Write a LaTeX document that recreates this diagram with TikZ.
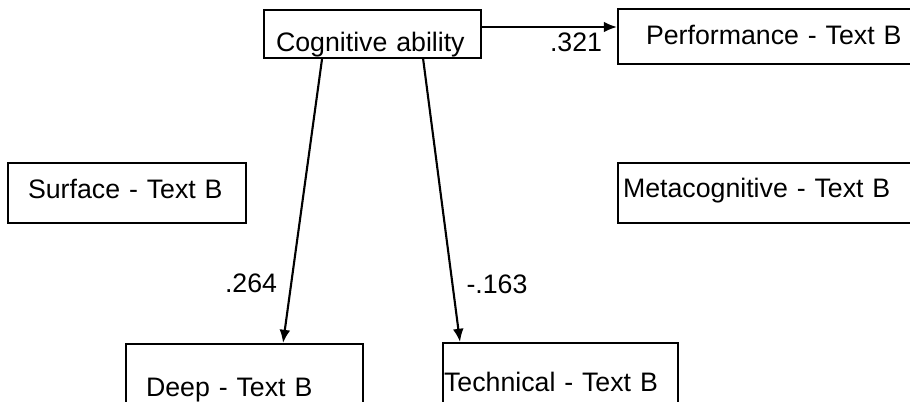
\documentclass[tikz,border=0pt]{standalone}
\usepackage{fontspec}
\setmainfont{Liberation Sans}
\usetikzlibrary{arrows.meta}
\tikzset{
  var/.style={draw, line width=1.5pt, anchor=north west, inner ysep=0pt,
    align=left, font=\fontsize{19}{22}\selectfont},
  coef/.style={inner sep=0pt, font=\fontsize{19}{22}\selectfont},
  effect/.style={line width=1.5pt, -{Latex[length=0.33cm,width=0.27cm]}}
}
\begin{document}
\begin{tikzpicture}[x=0.025cm, y=-0.025cm]
      \useasboundingbox (0,0) rectangle (910,402);
      \clip (0,0) rectangle (910,402);
      \draw
        (263,9) node[var, inner xsep=0.3cm, text width=4.825cm,
          text height=1.0375cm, text depth=0.1625cm] (cog) {Cognitive ability}
        (617,8) node[var, inner xsep=0.7cm, text width=6.6cm,
          text height=0.8875cm, text depth=0.4875cm] (perf) {Performance - Text B}
        (7,162) node[var, inner xsep=0.5cm, text width=4.95cm,
          text height=0.8875cm, text depth=0.6125cm] (surf) {Surface - Text B}
        (617,162) node[var, inner xsep=0.125cm, text width=7.5cm,
          text height=0.8625cm, text depth=0.6375cm] (meta) {Metacognitive - Text B}
        (125,343) node[var, inner xsep=0.5cm, text width=4.925cm,
          text height=1.3cm, text depth=0.45cm] (deep) {Deep - Text B}
        (442,342) node[var, inner xsep=0.025cm, text width=5.825cm,
          text height=1.2cm, text depth=0.55cm] (tech) {Technical - Text B};
      \draw
        (576,42) node[coef] (c321) {.321}
        (251,283) node[coef] (c264) {.264}
        (497,284) node[coef] (c163) {-.163};
      \begin{scope}[effect]
        \draw ([yshift=-0.45cm]cog.north east) to ([yshift=-0.45cm]cog.north east -| perf.west);
        \draw ([xshift=1.475cm]cog.south west) to ([xshift=3.95cm]deep.north west);
        \draw ([xshift=-1.475cm]cog.south east) to ([xshift=0.45cm]tech.north west);
      \end{scope}
    \end{tikzpicture}
\end{document}
